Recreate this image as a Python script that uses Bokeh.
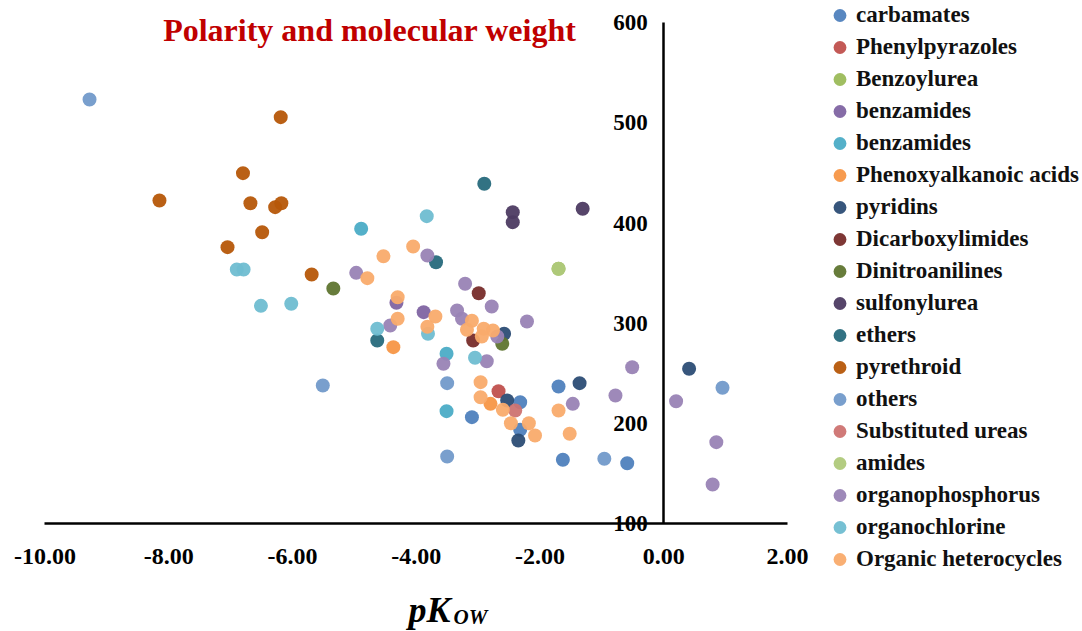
from bokeh.plotting import figure
from bokeh.models import Legend, LegendItem, Label, FixedTicker, NumeralTickFormatter, ColumnDataSource
from bokeh.embed import file_html
from bokeh.resources import INLINE

# ---------------- data (pK_OW, molecular weight) ----------------
carbamates_x = [-3.10, -2.32, -2.32, -1.70, -1.63, -0.59]
carbamates_y = [206.5, 221.4, 193.9, 237.1, 164.0, 160.6]
phenylpyrazoles_x = [-2.67]
phenylpyrazoles_y = [232.4]
benzoylurea_x = [-1.70]
benzoylurea_y = [354.4]
benzamides_p_x = [-3.88, -4.32]
benzamides_p_y = [311.2, 320.5]
benzamides_c_x = [-4.89, -3.51, -3.51]
benzamides_c_y = [394.3, 269.7, 212.5]
phenoxy_x = [-4.37, -2.80]
phenoxy_y = [276.3, 219.8]
pyridins_x = [-2.58, -2.53, -2.35, -1.36, 0.41]
pyridins_y = [289.6, 223.1, 183.2, 240.4, 254.7]
dicarbox_x = [-2.99, -3.08]
dicarbox_y = [330.1, 283.0]
dinitro_x = [-5.34, -2.61]
dinitro_y = [334.8, 279.7]
sulfonyl_x = [-2.44, -2.44, -1.31]
sulfonyl_y = [410.9, 400.9, 414.3]
ethers_x = [-2.90, -3.68, -4.63]
ethers_y = [439.2, 361.0, 283.0]
pyrethroid_x = [-6.19, -6.80, -8.15, -6.68, -6.28, -6.18, -6.49, -7.05, -5.69]
pyrethroid_y = [505.6, 449.8, 422.5, 419.8, 415.9, 419.8, 390.9, 376.0, 348.8]
others_x = [-9.28, -5.51, -3.50, -3.50, -0.96, 0.95]
others_y = [523.2, 238.1, 240.4, 167.3, 165.0, 235.8]
subureas_x = [-2.40]
subureas_y = [213.2]
amides_x = [-1.70]
amides_y = [354.4]
organophos_x = [-4.97, -3.82, -4.42, -3.21, -2.78, -2.21, -3.34, -3.26, -2.69,
                -3.56, -2.86, -1.47, -0.78, -0.51, 0.20, 0.85, 0.79]
organophos_y = [350.4, 367.7, 297.9, 339.5, 316.8, 301.9, 312.9, 304.6, 286.9,
                259.7, 262.3, 219.8, 228.1, 256.3, 222.4, 181.6, 139.4]
organochl_x = [-6.90, -6.79, -6.51, -6.02, -3.83, -4.63, -3.81, -3.05]
organochl_y = [353.7, 353.7, 317.5, 319.5, 406.9, 294.6, 289.6, 265.7]
heterocyc_x = [-4.05, -4.53, -4.79, -4.30, -4.30, -3.69, -3.82, -3.10, -3.18, -2.91,
               -2.76, -2.94, -2.96, -2.96, -2.60, -2.47, -2.18, -2.08, -1.70, -1.52]
heterocyc_y = [376.7, 367.0, 345.1, 326.1, 304.6, 306.9, 296.6, 302.6, 293.6, 294.6,
               292.9, 286.9, 241.4, 226.4, 213.9, 200.5, 200.5, 188.2, 213.2, 189.9]

categories = ["carbamates", "Phenylpyrazoles", "Benzoylurea", "benzamides", "benzamides",
              "Phenoxyalkanoic acids", "pyridins", "Dicarboxylimides", "Dinitroanilines",
              "sulfonylurea", "ethers", "pyrethroid", "others", "Substituted ureas",
              "amides", "organophosphorus", "organochlorine", "Organic heterocycles"]
series_x = [carbamates_x, phenylpyrazoles_x, benzoylurea_x, benzamides_p_x, benzamides_c_x,
            phenoxy_x, pyridins_x, dicarbox_x, dinitro_x, sulfonyl_x, ethers_x, pyrethroid_x,
            others_x, subureas_x, amides_x, organophos_x, organochl_x, heterocyc_x]
series_y = [carbamates_y, phenylpyrazoles_y, benzoylurea_y, benzamides_p_y, benzamides_c_y,
            phenoxy_y, pyridins_y, dicarbox_y, dinitro_y, sulfonyl_y, ethers_y, pyrethroid_y,
            others_y, subureas_y, amides_y, organophos_y, organochl_y, heterocyc_y]
colors = ["#4F81BD", "#C0504D", "#9BBB59", "#8064A2", "#4BACC6", "#F79646",
          "#2C4D75", "#772C2A", "#5F7530", "#4D3B62", "#276A7C", "#B65708",
          "#729ACA", "#CD7371", "#AFC97A", "#9983B5", "#6FBDD1", "#F9AB6B"]
x_ticks = [-10, -8, -6, -4, -2, 0, 2]
y_ticks = [100, 200, 300, 400, 500, 600]
x_bounds = (-10, 2)
y_bounds = (100, 600)
title_text = "Polarity and molecular weight"

SERIF = "Liberation Serif"

# Frame covers the whole canvas; axes are drawn at fixed locations with bounds
p = figure(width=1082, height=631, x_range=(-10.719, 6.768), y_range=(-7.18, 621.9),
           output_backend="svg", toolbar_location=None,
           min_border_left=0, min_border_right=0, min_border_top=0, min_border_bottom=0)
p.outline_line_color = None
p.xgrid.visible = False
p.ygrid.visible = False
p.background_fill_color = "white"
p.border_fill_color = "white"

# x axis at y = 100
xa = p.xaxis[0]
xa.fixed_location = 100
xa.bounds = x_bounds
xa.ticker = FixedTicker(ticks=x_ticks)
xa.formatter = NumeralTickFormatter(format="0.00")
xa.axis_line_width = 2.5
xa.axis_line_color = "black"
xa.major_tick_line_color = None
xa.minor_tick_line_color = None
xa.major_tick_out = 0
xa.major_tick_in = 0
xa.major_label_standoff = 25
xa.major_label_text_font = SERIF
xa.major_label_text_font_style = "bold"
xa.major_label_text_font_size = "24px"
xa.major_label_text_color = "black"

# y axis crossing at x = 0
ya = p.yaxis[0]
ya.fixed_location = 0
ya.bounds = y_bounds
ya.ticker = FixedTicker(ticks=y_ticks)
ya.axis_line_width = 2.5
ya.axis_line_color = "black"
ya.major_tick_line_color = None
ya.minor_tick_line_color = None
ya.major_tick_out = 0
ya.major_tick_in = 0
ya.major_label_standoff = 16
ya.major_label_text_font = SERIF
ya.major_label_text_font_style = "bold"
ya.major_label_text_font_size = "23px"
ya.major_label_text_color = "black"

items = []
for name, xs, ys, c in zip(categories, series_x, series_y, colors):
    src = ColumnDataSource(data=dict(x=xs, y=ys))
    r = p.scatter("x", "y", source=src, size=14, marker="circle",
                  fill_color=c, fill_alpha=0.95, line_color=None)
    items.append(LegendItem(label=name, renderers=[r]))

legend = Legend(items=items, location=(823, 56), orientation="vertical",
                glyph_width=33, glyph_height=32, label_height=32, spacing=0,
                padding=0, margin=0, label_standoff=0,
                label_text_font=SERIF, label_text_font_style="bold",
                label_text_font_size="23px", label_text_color="#111111",
                border_line_color=None, background_fill_alpha=0)
p.add_layout(legend)

p.add_layout(Label(x=-8.09, y=592, text=title_text, text_font=SERIF,
                   text_font_style="bold", text_font_size="32px",
                   text_color="#C00000", text_baseline="alphabetic", text_align="left"))

# axis title pK_OW (with subscript)
p.add_layout(Label(x=408, y=22, x_units="screen", y_units="screen", text="pK",
                   text_font=SERIF, text_font_style="bold italic", text_font_size="36px",
                   text_color="black", text_baseline="alphabetic"))
p.add_layout(Label(x=453, y=15, x_units="screen", y_units="screen", text="OW",
                   text_font=SERIF, text_font_style="bold italic", text_font_size="21px",
                   text_color="black", text_baseline="alphabetic"))

open("out.html", "w").write(file_html(p, INLINE))
